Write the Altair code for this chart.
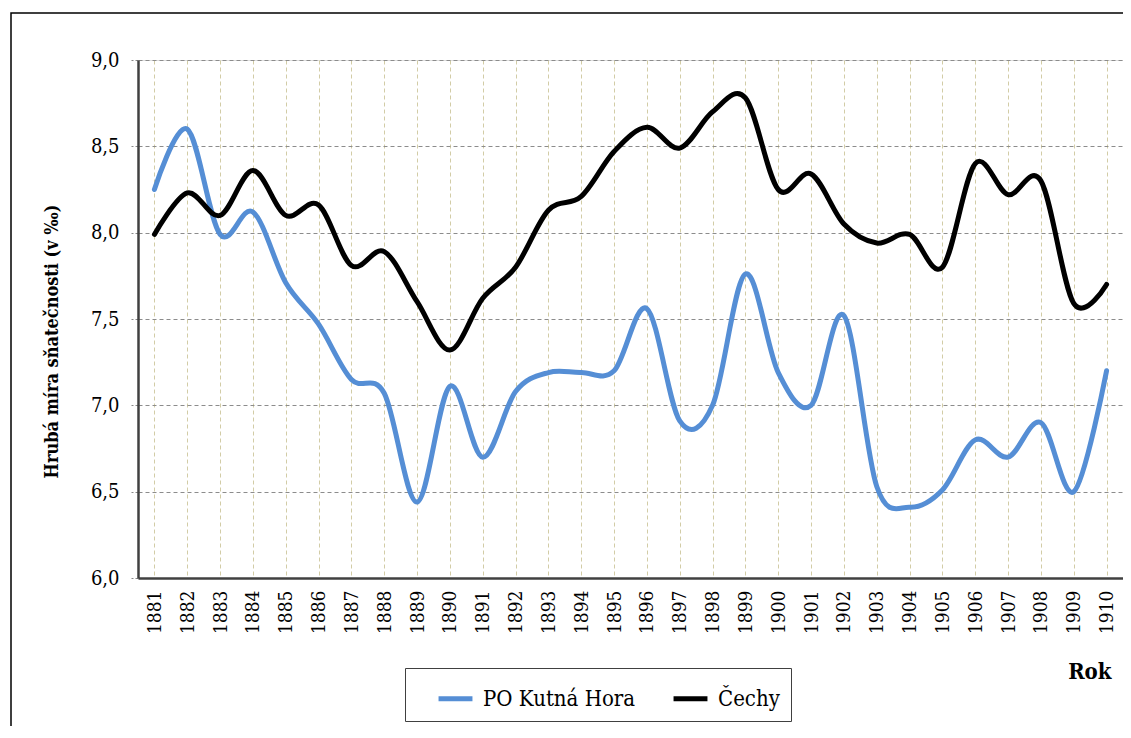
import altair as alt
import pandas as pd

years = [str(y) for y in range(1881, 1911)]
kutna_hora = [8.25, 8.60, 7.99, 8.12, 7.71, 7.47, 7.15, 7.07, 6.44, 7.11,
              6.70, 7.08, 7.19, 7.19, 7.20, 7.56, 6.91, 7.00, 7.76, 7.19,
              7.00, 7.52, 6.53, 6.41, 6.51, 6.80, 6.70, 6.90, 6.50, 7.20]
cechy = [7.99, 8.23, 8.10, 8.36, 8.10, 8.16, 7.81, 7.89, 7.60, 7.32,
         7.62, 7.80, 8.13, 8.21, 8.47, 8.61, 8.49, 8.70, 8.78, 8.25,
         8.34, 8.05, 7.94, 7.99, 7.80, 8.40, 8.22, 8.30, 7.59, 7.70]
series_names = ["PO Kutná Hora", "Čechy"]
series_colors = ["#558ed5", "#000000"]

rows = []
for name, vals in zip(series_names, [kutna_hora, cechy]):
    for y, v in zip(years, vals):
        rows.append({"Rok": y, "value": v, "series": name})
df = pd.DataFrame(rows)

FONT = "DejaVu Serif Condensed"
W, H = 985, 518

frame = alt.Chart(pd.DataFrame({"a": [0]})).mark_rect(
    fill=None, stroke="#000000", strokeWidth=1.5
).encode(
    x=alt.value(-127), x2=alt.value(W + 40),
    y=alt.value(-47), y2=alt.value(H + 200)
)

lines = alt.Chart(df).mark_line(
    strokeWidth=5, interpolate="cardinal", tension=0, strokeCap="round"
).encode(
    x=alt.X("Rok:O", sort=years,
            scale=alt.Scale(type="point", padding=0.5),
            axis=alt.Axis(
                title="Rok", labelAngle=270, labelAlign="right", labelBaseline="middle",
                labelFont=FONT, labelFontSize=19, labelColor="#000", labelPadding=12,
                ticks=False, domainColor="#404040", domainWidth=2.5,
                grid=True, gridColor="#d2cca6", gridDash=[4, 3], gridWidth=1,
                titleFont=FONT, titleFontSize=22, titleFontWeight="bold", titleColor="#000",
                titleAnchor="end", titleAlign="right", titleBaseline="alphabetic",
                titleX=973, titleY=100,
            )),
    y=alt.Y("value:Q",
            scale=alt.Scale(domain=[6, 9], nice=False, zero=False),
            axis=alt.Axis(
                title="Hrubá míra sňatečnosti (v ‰)", values=[6, 6.5, 7, 7.5, 8, 8.5, 9],
                labelExpr="replace(format(datum.value, '.1f'), '.', ',')",
                labelFont=FONT, labelFontSize=20, labelColor="#000", labelPadding=12,
                tickColor="#888888", tickSize=7, tickDash=[3, 2], tickWidth=1,
                domainColor="#404040", domainWidth=2.5,
                grid=True, gridColor="#8c8c8c", gridDash=[4, 3], gridWidth=1,
                titleFont=FONT, titleFontSize=18, titleFontWeight="bold", titleColor="#000",
                titleAngle=270, titleAlign="center", titleBaseline="middle",
                titleX=-86, titleY=281,
            )),
    color=alt.Color("series:N",
                    scale=alt.Scale(domain=series_names, range=series_colors),
                    sort=series_names,
                    legend=alt.Legend(
                        title=None, orient="none", legendX=267, legendY=608,
                        direction="horizontal", strokeColor="#404040", fillColor="#ffffff",
                        padding=11, labelFont=FONT, labelFontSize=22, labelColor="#000",
                        symbolType="stroke", symbolStrokeWidth=5, symbolSize=1150,
                        columnPadding=15, labelOffset=8, symbolOffset=20,
                        labelExpr="datum.label == 'Čechy' ? 'Čechy\u00a0\u00a0\u00a0\u00a0\u00a0\u00a0' : datum.label",
                    )),
)

chart = alt.layer(frame, lines).properties(
    width=W, height=H,
    autosize=alt.AutoSizeParams(type="none"),
    padding={"left": 130, "top": 52, "right": 0, "bottom": 148},
).configure_view(stroke="#000000", strokeWidth=1.5).configure(background="white")

chart.save("out.html", embed_options={"renderer": "svg", "actions": False})
